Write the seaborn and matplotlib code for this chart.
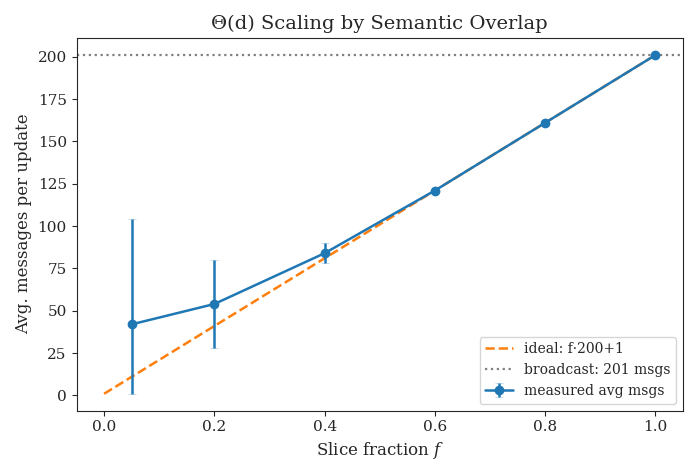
import numpy as np
import pandas as pd
import matplotlib
matplotlib.use("Agg")
import matplotlib.pyplot as plt
import seaborn as sns

sns.set_style("ticks")
plt.rcParams['font.family'] = ['DejaVu Serif']
plt.rcParams['mathtext.fontset'] = 'dejavuserif'

# measured data
slice_frac = [0.05, 0.2, 0.4, 0.6, 0.8, 1.0]
avg_msgs = [42, 54, 84, 121, 161, 201]
err_low = [41, 26, 6, 0.5, 0.3, 0.3]
err_high = [62, 26, 6, 0.5, 0.3, 0.3]

# ideal line f*200+1
ideal_f = [0.0, 1.0]
ideal_msgs = [1, 201]
broadcast = 201

ideal_df = pd.DataFrame({'f': ideal_f, 'msgs': ideal_msgs})

fig, ax = plt.subplots(figsize=(6.98, 4.76), dpi=100)
sns.lineplot(data=ideal_df, x='f', y='msgs', ax=ax, color='#ff7f0e',
             linestyle='--', linewidth=1.8, label='ideal: f·200+1')
ax.axhline(broadcast, color='gray', linestyle=':', linewidth=1.6,
           label='broadcast: 201 msgs')
line, caps, bars = ax.errorbar(slice_frac, avg_msgs, yerr=[err_low, err_high],
                               fmt='-o', color='#1f77b4', markersize=6,
                               linewidth=1.8, elinewidth=1.8, capsize=3,
                               capthick=0.5, label='measured avg msgs')
for c in caps:
    c.set_alpha(0.35)

ax.set_xticks(np.arange(0, 1.01, 0.2))
ax.set_yticks(np.arange(0, 201, 25))
ax.tick_params(labelsize=11)
ax.set_xlabel('Slice fraction $f$', fontsize=12)
ax.set_ylabel('Avg. messages per update', fontsize=12)
ax.set_title('Θ(d) Scaling by Semantic Overlap', fontsize=14)
ax.legend(loc='lower right', fontsize=10)

plt.tight_layout()
plt.savefig('out.png', dpi=100)
